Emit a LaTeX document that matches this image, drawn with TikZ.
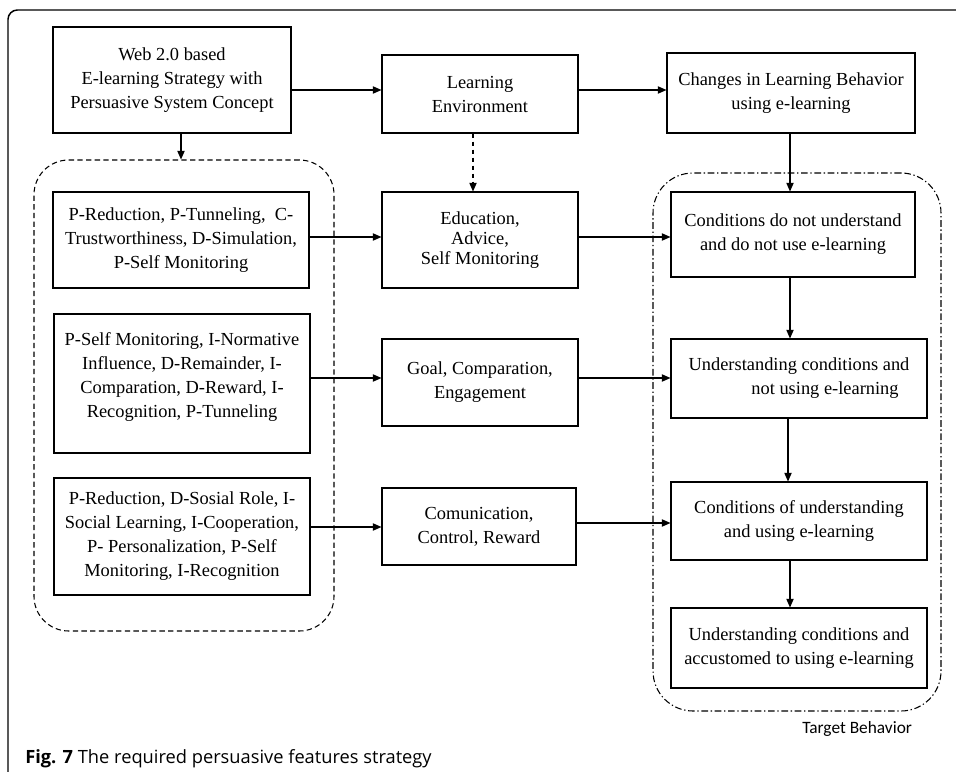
\documentclass[tikz,border=0pt]{standalone}
\usepackage{fontspec}
\setmainfont{Liberation Serif}
\newfontfamily\capfont{Open Sans}
\newfontfamily\tbfont{Carlito}
\usetikzlibrary{arrows.meta}
\begin{document}
\begin{tikzpicture}[x=0.75pt,y=-0.75pt,
 box/.style={draw, line width=0.8pt, align=center, inner sep=2pt, font=\fontsize{13.8}{18}\selectfont},
 arr/.style={line width=0.8pt, -{Triangle[length=6.5pt,width=5.5pt]}},
 darr/.style={arr, dash pattern=on 3.5pt off 2.5pt},
 grpa/.style={draw, line width=0.8pt, rounded corners=26pt, dash pattern=on 4pt off 2.5pt},
 grpb/.style={draw, line width=0.8pt, rounded corners=30pt, dash pattern=on 5pt off 2pt on 1pt off 2pt}
]
\useasboundingbox (0,0) rectangle (956,771);
% frame
\draw[line width=1.1pt, rounded corners=7pt] (960,10) -- (8,10) -- (8,775);
% groups
\node[grpa, minimum width=225pt, minimum height=353.25pt] (G1) at (184,395.5) {};
\node[grpb, minimum width=216pt, minimum height=403.5pt] (G2) at (797,442) {};
% top row
\node[box, minimum width=178.5pt, minimum height=79.5pt] (A) at (172,80) {Web 2.0 based\\E-learning Strategy with\\Persuasive System Concept};
\node[box, minimum width=147pt, minimum height=58.5pt] (B) at (480,94) {Learning\\Environment};
\node[box, minimum width=186pt, minimum height=60pt] (C) at (791,93) {Changes in Learning Behavior\\using e-learning};
% row 1
\node[box, minimum width=192pt, minimum height=72pt] (D1) at (181,240) {P-Reduction, P-Tunneling,\ \ C-\\Trustworthiness, D-Simulation,\\P-Self Monitoring};
\node[box, minimum width=147pt, minimum height=72pt, font=\fontsize{13.8}{15}\selectfont] (E) at (480,240) {Education,\\Advice,\\Self Monitoring};
\node[box, minimum width=183pt, minimum height=63.75pt] (K1) at (793,234.5) {Conditions do not understand\\and do not use e-learning};
% row 2
\node[box, minimum width=192pt, minimum height=104.25pt] (D2) at (182,383.5) {P-Self Monitoring, I-Normative\\Influence, D-Remainder, I-\\Comparation, D-Reward, I-\\Recognition, P-Tunneling\\[-6pt]};
\node[box, minimum width=147pt, minimum height=65.25pt] (F) at (480,382.5) {Goal, Comparation,\\Engagement};
\node[box, minimum width=192pt, minimum height=59.25pt] (K2) at (799,378.5) {Understanding conditions and\\\hspace*{39pt}not using e-learning};
% row 3
\node[box, minimum width=192pt, minimum height=87.75pt] (D3) at (182,536.5) {P-Reduction, D-Sosial Role, I-\\Social Learning, I-Cooperation,\\P- Personalization, P-Self\\Monitoring, I-Recognition};
\node[box, minimum width=145.5pt, minimum height=57.75pt] (H) at (479,526.5) {Comunication,\\Control, Reward};
\node[box, minimum width=192pt, minimum height=58.5pt] (K3) at (799,521) {Conditions of understanding\\and using e-learning};
\node[box, minimum width=192pt, minimum height=60pt] (K4) at (799,648) {Understanding conditions and\\accustomed to using e-learning};
% connectors
\draw[arr] (A.east |- 0,90) -- (B.west |- 0,90);
\draw[arr] (B.east |- 0,90) -- (C.west |- 0,90);
\draw[arr] (A.south -| 181,0) -- (G1.north -| 181,0);
\draw[darr] (B.south -| 473,0) -- (E.north -| 473,0);
\draw[arr] (C.south -| 790,0) -- (K1.north -| 790,0);
\draw[arr] (D1.east |- 0,237) -- (E.west |- 0,237);
\draw[arr] (E.east |- 0,237) -- (K1.west |- 0,237);
\draw[arr] (D2.east |- 0,378) -- (F.west |- 0,378);
\draw[arr] (F.east |- 0,378) -- (K2.west |- 0,378);
\draw[arr] (D3.east |- 0,527) -- (H.west |- 0,527);
\draw[arr] (H.east |- 0,523) -- (K3.west |- 0,523);
\draw[arr] (K1.south -| 790,0) -- (K2.north -| 790,0);
\draw[arr] (K2.south -| 788,0) -- (K3.north -| 788,0);
\draw[arr] (K3.south -| 790,0) -- (K4.north -| 790,0);
% labels
\node[anchor=base west, inner sep=0pt, font=\tbfont\fontsize{13}{15}\selectfont] (TB) at (802,733) {Target Behavior};
\node[anchor=base west, inner sep=0pt, font=\capfont\fontsize{13.7}{16}\selectfont] (CAP) at (25,763) {\textbf{Fig. 7} The required persuasive features strategy};
\end{tikzpicture}
\end{document}
